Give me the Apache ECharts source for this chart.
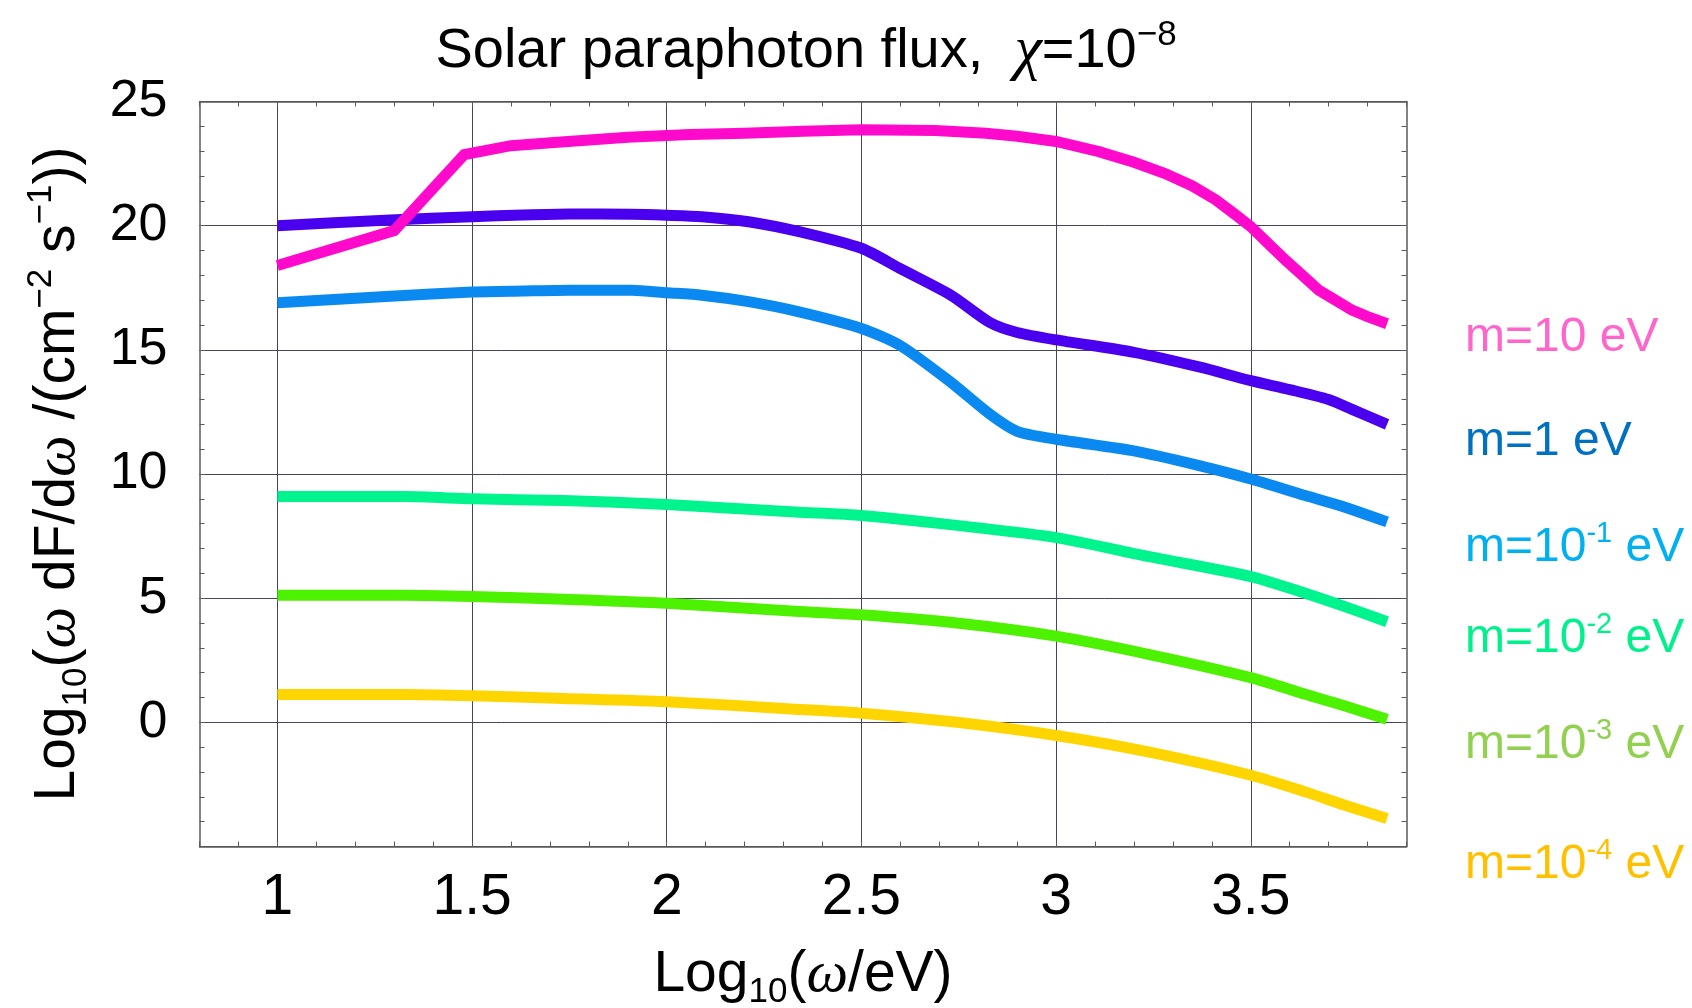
<!DOCTYPE html>
<html>
<head>
<meta charset="utf-8">
<script src="https://cdn.jsdelivr.net/npm/echarts@6/dist/echarts.min.js"></script>
<style>
  html, body { margin: 0; padding: 0; background: #ffffff; }
  #chart { width: 1692px; height: 1008px; }
</style>
</head>
<body>
<div id="chart"></div>
<script>
// log10(omega / eV) sample points and log10(omega dF/domega) values, one pair of arrays per mass
const omegaM10 = [1.0, 1.3, 1.48, 1.6, 1.72, 1.9, 2.06, 2.2, 2.35, 2.5, 2.69, 2.82, 2.9, 3.0, 3.11, 3.2, 3.28, 3.35, 3.41, 3.46, 3.5, 3.55, 3.59, 3.63, 3.675, 3.72, 3.76, 3.8, 3.85];
const fluxM10  = [18.4, 19.8, 22.86, 23.22, 23.36, 23.56, 23.67, 23.72, 23.8, 23.86, 23.83, 23.72, 23.6, 23.39, 22.98, 22.55, 22.1, 21.6, 21.04, 20.45, 19.96, 19.2, 18.6, 18.04, 17.4, 16.98, 16.6, 16.34, 16.05];

const omegaM1 = [1.0, 1.29, 1.5, 1.63, 1.75, 1.91, 2.0, 2.09, 2.21, 2.34, 2.5, 2.6, 2.73, 2.83, 2.9, 3.0, 3.2, 3.37, 3.5, 3.6, 3.7, 3.76, 3.85];
const fluxM1  = [20.0, 20.23, 20.36, 20.43, 20.47, 20.46, 20.42, 20.36, 20.16, 19.76, 19.09, 18.27, 17.2, 16.1, 15.7, 15.4, 14.9, 14.3, 13.76, 13.4, 13.0, 12.6, 12.0];

const omegaM01 = [1.0, 1.29, 1.5, 1.63, 1.75, 1.91, 2.0, 2.09, 2.21, 2.34, 2.5, 2.6, 2.73, 2.83, 2.9, 3.0, 3.2, 3.37, 3.5, 3.64, 3.74, 3.85];
const fluxM01  = [16.9, 17.16, 17.33, 17.37, 17.4, 17.4, 17.3, 17.2, 16.94, 16.53, 15.86, 15.17, 13.69, 12.41, 11.72, 11.4, 10.93, 10.33, 9.8, 9.13, 8.67, 8.07];

const omegaLight = [1.0, 1.33, 1.5, 1.735, 2.0, 2.33, 2.5, 2.745, 3.0, 3.24, 3.5, 3.64, 3.74, 3.85];
const fluxM001   = [9.09, 9.09, 9.0, 8.93, 8.77, 8.47, 8.33, 7.93, 7.44, 6.67, 5.87, 5.2, 4.67, 4.05];
const fluxM0001  = [5.12, 5.12, 5.07, 4.96, 4.8, 4.47, 4.33, 4.0, 3.47, 2.73, 1.8, 1.13, 0.67, 0.12];
const fluxM00001 = [1.12, 1.12, 1.07, 0.96, 0.83, 0.53, 0.37, 0.0, -0.53, -1.2, -2.13, -2.8, -3.33, -3.87];

const xTickLabels = ['1', '1.5', '2', '2.5', '3', '3.5'];
const yTickLabels = ['0', '5', '10', '15', '20', '25'];

const massNames = ['m=10 eV', 'm=1 eV', 'm=10^-1 eV', 'm=10^-2 eV', 'm=10^-3 eV', 'm=10^-4 eV'];
const lineColors  = ['#FF0ACC', '#4A00EE', '#0A8AF0', '#00F48E', '#4CF200', '#FFD500'];
const labelColors = ['#FF66CC', '#0070C0', '#00B0F0', '#00F08C', '#92D050', '#FFC000'];

const zip = (xs, ys) => xs.map((x, i) => [x, ys[i]]);
const curves = [
  zip(omegaM10, fluxM10),
  zip(omegaM1, fluxM1),
  zip(omegaM01, fluxM01),
  zip(omegaLight, fluxM001),
  zip(omegaLight, fluxM0001),
  zip(omegaLight, fluxM00001)
];
// the m=10 eV curve keeps its sharp corners near 1.3 and 1.48
const smoothing = [0, 0.25, 0.25, 0.25, 0.25, 0.25];

const SANS = 'Liberation Sans, Arial, Helvetica, sans-serif';
const SERIF = 'Liberation Serif, Times New Roman, serif';
const GRID_COLOR = '#44445f';
const FRAME_COLOR = '#5a5a5a';
const NONE = 'rgba(0,0,0,0)';

const near = (v, t) => Math.abs(v - t) < 1e-6;
const xLabel = v => xTickLabels.find(s => near(Number(s), v)) || '';
const yLabel = v => yTickLabels.find(s => near(Number(s), v)) || '';

const frameAxis = {
  axisLine: { show: true, onZero: false, lineStyle: { color: FRAME_COLOR, width: 1.5 } },
  axisTick: { show: true, inside: true, length: 5, lineStyle: { color: FRAME_COLOR, width: 1 } },
  axisLabel: { show: false },
  splitLine: { show: false }
};

// series drawn bottom-up so the m=10 eV curve ends on top
const series = curves.map((data, i) => ({
  type: 'line',
  name: massNames[i],
  data: data,
  showSymbol: false,
  symbol: 'none',
  silent: true,
  smooth: smoothing[i],
  z: 10 - i,
  lineStyle: { width: 11, color: lineColors[i], cap: 'butt', join: 'miter' },
  itemStyle: { color: lineColors[i] }
})).reverse();

// mass labels in the right margin
const labelRich = (color) => ({
  a: { fontFamily: SANS, fontSize: 48, color: color, lineHeight: 58 },
  s: { fontFamily: SANS, fontSize: 29, color: color, verticalAlign: 'top', lineHeight: 29 }
});
const labelTexts = [
  '{a|m=10 eV}',
  '{a|m=1 eV}',
  '{a|m=10}{s|-1}{a| eV}',
  '{a|m=10}{s|-2}{a| eV}',
  '{a|m=10}{s|-3}{a| eV}',
  '{a|m=10}{s|-4}{a| eV}'
];
const labelY = [338, 442, 548, 639, 745, 865];
const graphics = labelTexts.map((t, i) => ({
  type: 'text',
  x: 1465,
  y: labelY[i],
  silent: true,
  style: {
    text: t,
    rich: labelRich(labelColors[i]),
    fill: labelColors[i],
    align: 'left',
    verticalAlign: 'middle'
  }
}));

const option = {
  backgroundColor: '#ffffff',
  animation: false,
  textStyle: { fontFamily: SANS },
  title: {
    text: 'Solar paraphoton flux,  {chi|χ}=10{sup|−8}',
    left: 801,
    top: 13,
    textAlign: 'center',
    textStyle: {
      fontFamily: SANS, fontSize: 56, fontWeight: 'normal', color: '#000', lineHeight: 68,
      rich: {
        chi: { fontFamily: SERIF, fontStyle: 'italic', fontSize: 62, color: '#000', lineHeight: 68 },
        sup: { fontFamily: SANS, fontSize: 35, color: '#000', verticalAlign: 'top', lineHeight: 35 }
      }
    }
  },
  grid: { left: 199.5, right: 285.5, top: 101.5, bottom: 161.5, containLabel: false, outerBoundsMode: 'none' },
  xAxis: [
    {
      type: 'value', min: 0.8, max: 3.9, interval: 0.1,
      position: 'bottom',
      axisLine: { show: true, onZero: false, lineStyle: { color: FRAME_COLOR, width: 1.5 } },
      axisTick: { show: true, inside: true, length: 5, lineStyle: { color: FRAME_COLOR, width: 1 } },
      axisLabel: {
        show: true, margin: 23, color: '#000', fontFamily: SANS, fontSize: 57,
        formatter: xLabel
      },
      // one grid line every fifth tick (ticks start at 0.8, so 1.0, 1.5, ...)
      splitLine: { show: true, lineStyle: { width: 1, color: [NONE, NONE, GRID_COLOR, NONE, NONE] } },
      name: 'Log{sub|10}({w|ω}/eV)',
      nameLocation: 'middle',
      nameGap: 95,
      nameTextStyle: {
        fontFamily: SANS, fontSize: 57, color: '#000', lineHeight: 68,
        rich: {
          sub: { fontFamily: SANS, fontSize: 35, color: '#000', verticalAlign: 'bottom', lineHeight: 48 },
          w: { fontFamily: SERIF, fontStyle: 'italic', fontSize: 59, color: '#000', lineHeight: 68 }
        }
      }
    },
    Object.assign({ type: 'value', min: 0.8, max: 3.9, interval: 0.1, position: 'top' }, frameAxis)
  ],
  yAxis: [
    {
      type: 'value', min: -5, max: 25, interval: 1,
      position: 'left',
      axisLine: { show: true, onZero: false, lineStyle: { color: FRAME_COLOR, width: 1.5 } },
      axisTick: { show: true, inside: true, length: 5, lineStyle: { color: FRAME_COLOR, width: 1 } },
      axisLabel: {
        show: true, margin: 32, color: '#000', fontFamily: SANS, fontSize: 52,
        formatter: yLabel
      },
      splitLine: { show: true, lineStyle: { width: 1, color: [GRID_COLOR, NONE, NONE, NONE, NONE] } },
      name: 'Log{sub|10}({w|ω} dF/d{w|ω} /(cm{sup|−2} s{sup|−1}))',
      nameLocation: 'middle',
      nameRotate: 90,
      nameGap: 106,
      nameTextStyle: {
        fontFamily: SANS, fontSize: 57, color: '#000', lineHeight: 70,
        rich: {
          sub: { fontFamily: SANS, fontSize: 35, color: '#000', verticalAlign: 'bottom', lineHeight: 48 },
          sup: { fontFamily: SANS, fontSize: 35, color: '#000', verticalAlign: 'top', lineHeight: 34 },
          w: { fontFamily: SERIF, fontStyle: 'italic', fontSize: 59, color: '#000', lineHeight: 70 }
        }
      }
    },
    Object.assign({ type: 'value', min: -5, max: 25, interval: 1, position: 'right' }, frameAxis)
  ],
  graphic: graphics,
  series: series
};

const chart = echarts.init(document.getElementById('chart'), null, { renderer: 'canvas', width: 1692, height: 1008 });
chart.setOption(option);
</script>
</body>
</html>
